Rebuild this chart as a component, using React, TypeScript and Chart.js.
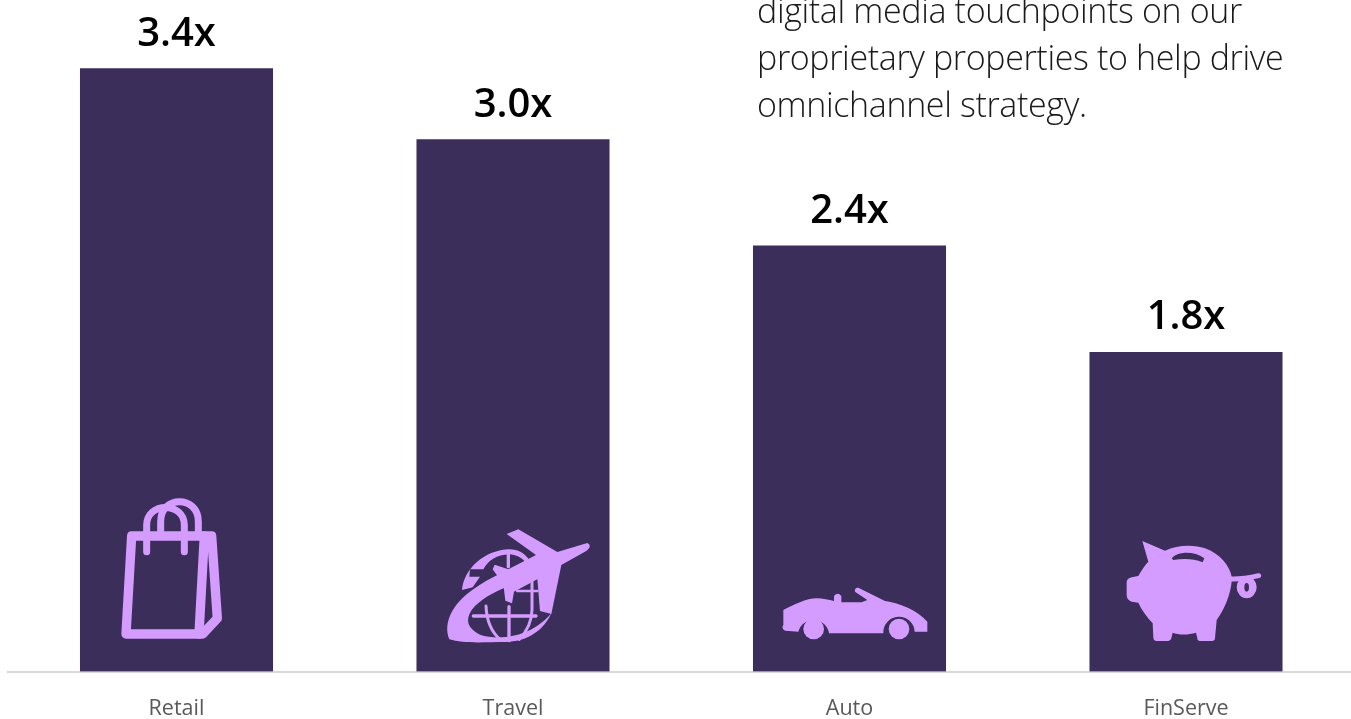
import React, { useEffect, useRef } from "react";
import { Chart, registerables, Plugin } from "chart.js";

Chart.register(...registerables);

const categories = ["Retail", "Travel", "Auto", "FinServe"];
const multiples = [3.4, 3.0, 2.4, 1.8];
const noteLines = [
  "digital media touchpoints on our",
  "proprietary properties to help drive",
  "omnichannel strategy.",
];

const BAR_COLOR = "#3c2e5a";
const ICON_COLOR = "#d59cff";
const TEXT_FONT = '"Open Sans", sans-serif';

// Icon artwork is authored on a 3x grid, anchored to the bar centre and baseline.
type Stroke = { d: string; w: number };
type Icon = { dx: number; dy: number; fill: string[]; strokes: Stroke[] };

const bagIcon: Icon = {
  dx: -76.5,
  dy: -191.5,
  fill: [],
  strokes: [
    { d: "M95 168 L335 168 L352 415 L308 462 L78 462 Z", w: 28 },
    { d: "M313 168 L297 462", w: 28 },
    { d: "M140 215 V135 C140 65 253 65 253 135 V215", w: 21 },
    { d: "M182 155 V125 C182 45 295 45 295 125 V155", w: 21 },
  ],
};

const travelIcon: Icon = {
  dx: -83,
  dy: -161.5,
  fill: [
    "M96 240 C102 175 165 120 238 118 C264 118 284 130 298 150 L288 158 C274 142 258 134 238 133 C200 135 176 150 160 178 L120 178 L118 200 L150 200 L128 232 Z",
    "M58 388 C38 340 68 280 130 238 C155 220 180 205 208 192 L228 232 C190 248 150 268 125 300 C105 330 112 355 150 374 C205 392 300 385 364 310 C342 360 292 396 225 396 C170 396 100 402 58 388 Z",
    "M472 99 Q488 108 470 122 L394 165 L364 312 L330 303 L322 208 L252 245 L246 280 L226 272 L220 222 L188 178 L194 164 L235 178 L318 135 L230 72 L265 58 L382 126 Z",
  ],
  strokes: [
    { d: "M235 126 V170", w: 10 },
    { d: "M130 318 H318", w: 10 },
    { d: "M237 290 V392", w: 10 },
    { d: "M168 288 C170 335 188 370 212 390", w: 9 },
    { d: "M306 212 V300 C305 335 290 365 268 388", w: 9 },
    { d: "M262 243 H322", w: 8 },
  ],
};

const carIcon: Icon = {
  dx: -79.5,
  dy: -101.5,
  fill: [
    "M40 120 C70 105 110 85 140 85 C160 85 175 90 192 93 L192 78 Q203 65 214 78 L214 97 L275 97 L292 90 L255 65 Q253 52 265 53 L345 93 C390 100 440 120 472 155 L472 185 L434 185 A47 47 0 0 0 340 190 L177 190 A47 47 0 0 0 85 185 L45 182 Q33 175 40 165 Z",
    "M162 177 A31 31 0 1 1 100 177 A31 31 0 1 1 162 177 Z",
    "M418 177 A31 31 0 1 1 356 177 A31 31 0 1 1 418 177 Z",
  ],
  strokes: [],
};

const pigIcon: Icon = {
  dx: -76,
  dy: -141.5,
  fill: [
    "M97 33 L165 62 C200 45 250 42 285 55 C330 70 360 110 365 140 C368 170 350 230 320 270 L315 325 Q315 333 305 333 L270 333 Q262 333 262 325 L258 308 C235 315 205 315 188 308 L184 325 Q182 333 175 333 L140 333 Q130 333 130 322 L128 280 C110 260 95 240 85 218 L65 215 Q50 210 50 195 L50 155 Q52 145 65 142 L85 138 C95 120 105 105 115 95 Z M185 85 C200 65 250 60 283 85 L278 97 C250 85 220 85 190 90 Z",
    "M440 172 A30 33 0 1 1 380 172 A30 33 0 1 1 440 172 Z M417 172 A7 13 0 1 0 403 172 A7 13 0 1 0 417 172 Z",
  ],
  strokes: [{ d: "M362 147 C390 148 420 143 446 137", w: 15 }],
};

const barIcons = [bagIcon, travelIcon, carIcon, pigIcon];

const annotations: Plugin<"bar"> = {
  id: "annotations",
  afterDatasetsDraw(chart) {
    const { ctx } = chart;
    const bars = chart.getDatasetMeta(0).data;
    ctx.save();

    bars.forEach((bar, i) => {
      ctx.fillStyle = "#000000";
      ctx.font = `600 40px ${TEXT_FONT}`;
      ctx.textAlign = "center";
      ctx.textBaseline = "alphabetic";
      ctx.fillText(`${multiples[i].toFixed(1)}x`, bar.x, bar.y - 23);

      const icon = barIcons[i];
      const baseline = chart.scales.y.getPixelForValue(0);
      ctx.save();
      ctx.translate(bar.x + icon.dx, baseline + icon.dy);
      ctx.scale(1 / 3, 1 / 3);
      ctx.fillStyle = ICON_COLOR;
      ctx.strokeStyle = ICON_COLOR;
      ctx.lineJoin = "round";
      ctx.lineCap = "round";
      icon.fill.forEach((d) => ctx.fill(new Path2D(d), "evenodd"));
      icon.strokes.forEach((s) => {
        ctx.lineWidth = s.w;
        ctx.stroke(new Path2D(s.d));
      });
      ctx.restore();
    });

    // Commentary runs off the top edge of the slide.
    ctx.fillStyle = "#1a1a1a";
    ctx.font = `300 34px ${TEXT_FONT}`;
    ctx.letterSpacing = "-0.36px";
    ctx.textAlign = "left";
    noteLines.forEach((line, i) => ctx.fillText(line, 757, 23 + i * 47));
    ctx.restore();
  },
};

export default function App() {
  const canvasRef = useRef<HTMLCanvasElement>(null);

  useEffect(() => {
    const chart = new Chart(canvasRef.current!, {
      type: "bar",
      data: {
        labels: categories,
        datasets: [
          {
            data: multiples,
            backgroundColor: BAR_COLOR,
            barThickness: 192.4,
          },
        ],
      },
      options: {
        responsive: false,
        animation: false,
        devicePixelRatio: 1,
        layout: { padding: { left: 8.25, right: 5.75, top: 0, bottom: 0 } },
        plugins: { legend: { display: false }, tooltip: { enabled: false } },
        scales: {
          x: {
            grid: { display: false, drawTicks: false },
            border: { color: "#d9d9d9", width: 2 },
            ticks: {
              color: "#595959",
              padding: 24,
              maxRotation: 0,
              font: { family: TEXT_FONT, size: 21.5 },
            },
            afterFit(scale) {
              scale.height = 47.5;
            },
          },
          y: { display: false, min: 0, max: 3.787 },
        },
      },
      plugins: [annotations],
    });
    return () => chart.destroy();
  }, []);

  return (
    <div style={{ position: "fixed", left: 0, top: 0, width: 1351, height: 719, overflow: "hidden", background: "#ffffff" }}>
      <canvas ref={canvasRef} width={1360} height={719} style={{ display: "block" }} />
    </div>
  );
}
